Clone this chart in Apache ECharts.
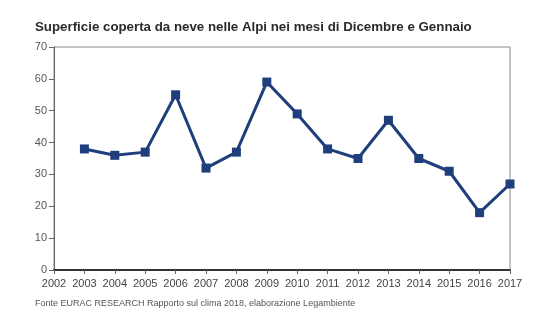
<!DOCTYPE html>
<html>
<head>
<meta charset="utf-8">
<script src="https://cdn.jsdelivr.net/npm/echarts@6/dist/echarts.min.js"></script>
<style>
html,body{margin:0;padding:0;background:#fff;}
#c{width:543px;height:330px;}
</style>
</head>
<body>
<div id="c"></div>
<script>
var titleText = 'Superficie coperta da neve nelle Alpi nei mesi di Dicembre e Gennaio';
var sourceText = 'Fonte EURAC RESEARCH Rapporto sul clima 2018, elaborazione Legambiente';
var years = ['2002','2003','2004','2005','2006','2007','2008','2009','2010','2011','2012','2013','2014','2015','2016','2017'];
var snowCover = [null,38,36,37,55,32,37,59,49,38,35,47,35,31,18,27];
var yTicks = {min:0, max:70, interval:10};

var chart = echarts.init(document.getElementById('c'), null, {renderer:'canvas'});
chart.setOption({
  animation:false,
  backgroundColor:'#fff',
  title:[{
    text:titleText, left:30, top:16,
    textStyle:{fontFamily:'Liberation Sans, Arial, sans-serif', fontWeight:'bold', fontSize:13.3, color:'#2b2b2b'}
  },{
    text:sourceText, left:30, top:294,
    textStyle:{fontFamily:'Liberation Sans, Arial, sans-serif', fontWeight:'normal', fontSize:9, color:'#555'}
  }],
  grid:{left:54, right:33, top:47, bottom:60, show:true, borderColor:'#888', borderWidth:1},
  xAxis:{
    type:'category', data:years, boundaryGap:false,
    axisLine:{show:true, lineStyle:{color:'#333', width:2}},
    axisTick:{show:true, alignWithLabel:true, length:4, lineStyle:{color:'#666'}},
    axisLabel:{color:'#444', fontSize:11, margin:8, fontFamily:'Liberation Sans, Arial, sans-serif', interval:0},
    splitLine:{show:false}
  },
  yAxis:{
    type:'value', min:yTicks.min, max:yTicks.max, interval:yTicks.interval,
    axisLine:{show:true, lineStyle:{color:'#666', width:1}},
    axisTick:{show:true, length:5, lineStyle:{color:'#666'}},
    axisLabel:{color:'#555', fontSize:11, margin:7, fontFamily:'Liberation Sans, Arial, sans-serif'},
    splitLine:{show:false}
  },
  series:[{
    type:'line', data:snowCover,
    symbol:'rect', symbolSize:9, showAllSymbol:true,
    lineStyle:{color:'#1e3f7c', width:3},
    itemStyle:{color:'#1e3f7c'}
  }]
});
</script>
</body>
</html>
